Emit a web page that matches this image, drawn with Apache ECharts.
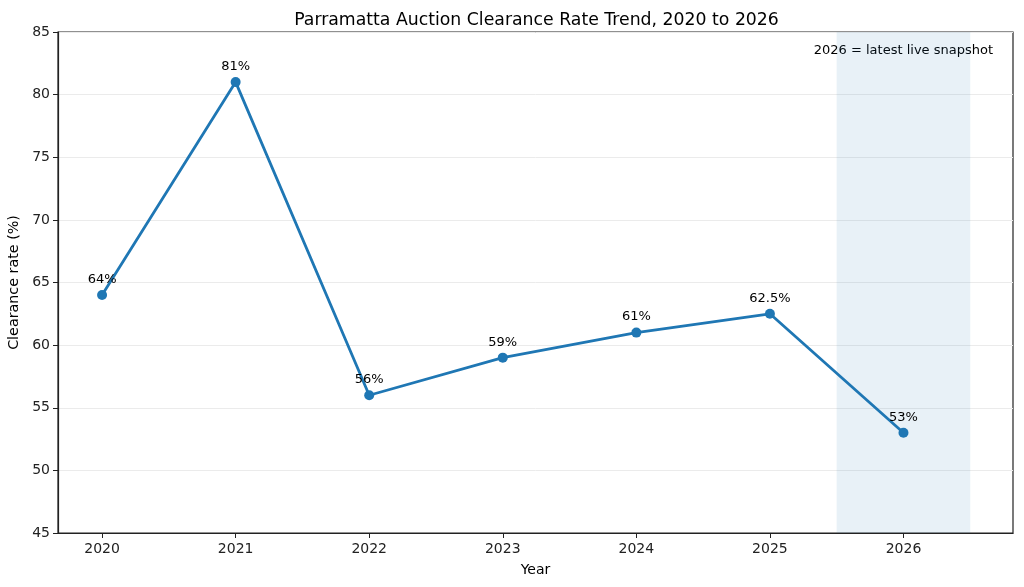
<!DOCTYPE html>
<html>
<head>
<meta charset="utf-8">
<script src="https://cdn.jsdelivr.net/npm/echarts@6/dist/echarts.min.js"></script>
<style>html,body{margin:0;padding:0;background:#fff}#c{width:1024px;height:587px}</style>
</head>
<body>
<div id="c"></div>
<script>
const years = [2020, 2021, 2022, 2023, 2024, 2025, 2026];
const rates = [64, 81, 56, 59, 61, 62.5, 53];
const labels = ['64%', '81%', '56%', '59%', '61%', '62.5%', '53%'];
const yTicks = [45, 50, 55, 60, 65, 70, 75, 80, 85];
const highlight = [2025.5, 2026.5];
const titleText = 'Parramatta Auction Clearance Rate Trend, 2020 to 2026';
const noteText = '2026 = latest live snapshot';

const font = 'DejaVu Sans';
const chart = echarts.init(document.getElementById('c'), null, {renderer: 'canvas'});
chart.setOption({
  animation: false,
  backgroundColor: '#ffffff',
  title: {
    text: titleText, left: 531.5, textAlign: 'center', top: 7,
    textStyle: {fontFamily: font, fontSize: 17.3, fontWeight: 'normal', color: '#000'}
  },
  grid: {left: 58, right: 11, top: 32, bottom: 54, show: true, borderColor: '#222', borderWidth: 1.2,
         backgroundColor: 'transparent', containLabel: false, outerBoundsMode: 'none'},
  xAxis: {
    type: 'value', min: 2019.67, max: 2026.82,
    name: 'Year', nameLocation: 'middle', nameGap: 30,
    nameTextStyle: {fontFamily: font, fontSize: 14, color: '#000'},
    axisLine: {show: true, onZero: false, lineStyle: {color: '#222', width: 1.2}},
    axisTick: {show: true, length: 5, lineStyle: {color: '#222'}, customValues: years},
    axisLabel: {fontFamily: font, fontSize: 14, color: '#222', margin: 9, customValues: years, formatter: v => String(v)},
    splitLine: {show: false}
  },
  yAxis: {
    type: 'value', min: 45, max: 85, interval: 5,
    name: 'Clearance rate (%)', nameLocation: 'middle', nameGap: 35, nameRotate: 90,
    nameTextStyle: {fontFamily: font, fontSize: 14.3, color: '#000'},
    axisLine: {show: true, lineStyle: {color: '#222', width: 1.2}},
    axisTick: {show: true, length: 5, lineStyle: {color: '#222'}},
    axisLabel: {fontFamily: font, fontSize: 14, color: '#222', margin: 8},
    splitLine: {show: true, lineStyle: {color: '#ebebeb', width: 1}}
  },
  graphic: [{
    type: 'text', right: 31, top: 44,
    style: {text: noteText, fontFamily: font, fontSize: 13, fill: '#000'}
  }],
  series: [{
    type: 'line',
    data: years.map((y, i) => [y, rates[i]]),
    lineStyle: {color: '#1f77b4', width: 2.8},
    itemStyle: {color: '#1f77b4'},
    symbol: 'circle', symbolSize: 10,
    label: {
      show: true, position: 'top', distance: 4,
      fontFamily: font, fontSize: 13, color: '#000',
      formatter: p => labels[p.dataIndex]
    },
    markArea: {
      silent: true,
      itemStyle: {color: 'rgba(31,119,180,0.1)'},
      data: [[{xAxis: highlight[0]}, {xAxis: highlight[1]}]]
    },
    z: 3
  }]
});
</script>
</body>
</html>
